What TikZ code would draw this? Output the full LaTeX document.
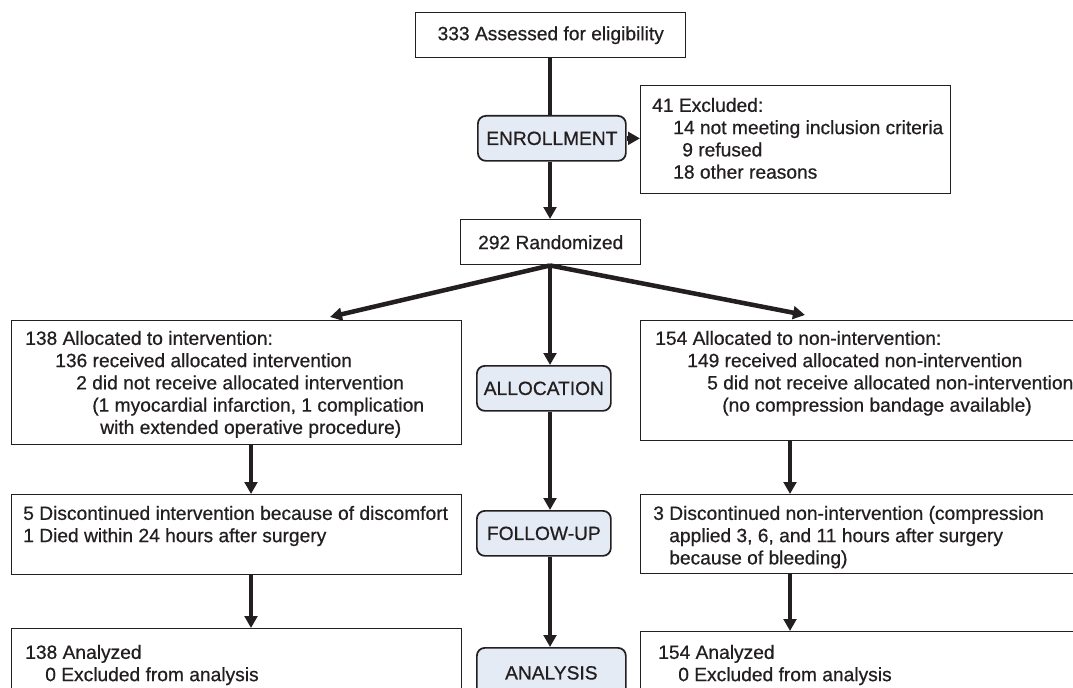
\documentclass[tikz,border=0pt]{standalone}
\usepackage{fontspec}
\setmainfont[FakeBold=0.6]{Liberation Sans}
\usetikzlibrary{arrows.meta,calc}
\definecolor{ink}{HTML}{231F20}
\definecolor{stagefill}{HTML}{E5EBF5}
\newcommand\figfont{\fontsize{14.4}{16.7}\selectfont}
\begin{document}
\begin{tikzpicture}[x=0.75pt,y=-0.75pt,
  box/.style={draw=ink, line width=1.1pt, fill=white, inner sep=0pt, anchor=north west, font=\figfont, text=ink},
  stage/.style={draw=ink, line width=1.3pt, fill=stagefill, rounded corners=6pt, inner sep=0pt, anchor=north west, font=\figfont, text=ink},
  txt/.style={anchor=north west, inner sep=0pt, align=left, font=\figfont, text=ink},
  arr/.style={draw=ink, line width=3.4pt, -{Triangle[width=9.5pt,length=9pt]}},
  link/.style={draw=ink, line width=3.4pt}]
\useasboundingbox (0,0) rectangle (1073,688);
\clip (0,0) rectangle (1073,688);
% boxes
\node[box, minimum width=202.5pt, minimum height=33.75pt] (top) at (415,12) {333 Assessed for eligibility};
\node[stage, minimum width=111pt, minimum height=33.75pt] (enr) at (477,115) {ENROLLMENT};
\node[box, minimum width=232.5pt, minimum height=81pt] (excl) at (640,85) {};
\node[box, minimum width=135pt, minimum height=33.75pt] (rand) at (460,219) {292 Randomized};
\node[box, minimum width=337.5pt, minimum height=93pt] (L1) at (11,320) {};
\node[stage, minimum width=100.5pt, minimum height=33.75pt] (alloc) at (476,365) {ALLOCATION};
\node[box, minimum width=337.5pt, minimum height=90pt] (R1) at (640,320) {};
\node[box, minimum width=337.5pt, minimum height=60pt] (L2) at (11,494) {};
\node[stage, minimum width=100.5pt, minimum height=33.75pt] (fu) at (476,510) {FOLLOW-UP};
\node[box, minimum width=337.5pt, minimum height=59.25pt] (R2) at (640,494) {};
\node[box, minimum width=337.5pt, minimum height=69pt] (L3) at (11,628) {};
\node[stage, minimum width=111.75pt, minimum height=37.5pt] (ana) at (476,647) {ANALYSIS};
\node[box, minimum width=337.5pt, minimum height=66.75pt] (R3) at (640,631) {};
% texts
\node[txt] (exclt) at ($(excl.north west)+(12,11)$) {\strut 41 Excluded:\\\hspace*{15.75pt}14 not meeting inclusion criteria\\\hspace*{22.5pt}9 refused\\\hspace*{15.75pt}18 other reasons};
\node[txt] (L1t) at ($(L1.north west)+(14,9)$) {\strut 138 Allocated to intervention:\\\hspace*{22.5pt}136 received allocated intervention\\\hspace*{38.25pt}2 did not receive allocated intervention\\\hspace*{50.25pt}(1 myocardial infarction, 1 complication\\\hspace*{56.25pt}with extended operative procedure)};
\node[txt] (R1t) at ($(R1.north west)+(15,9)$) {\strut 154 Allocated to non-intervention:\\\hspace*{24pt}149 received allocated non-intervention\\\hspace*{39pt}5 did not receive allocated non-intervention\\\hspace*{50.25pt}(no compression bandage available)};
\node[txt] (L2t) at ($(L2.north west)+(12,10)$) {\strut 5 Discontinued intervention because of discomfort\\1 Died within 24 hours after surgery};
\node[txt] (R2t) at ($(R2.north west)+(13,10)$) {\strut 3 Discontinued non-intervention (compression\\\hspace*{12pt}applied 3, 6, and 11 hours after surgery\\\hspace*{12pt}because of bleeding)};
\node[txt] (L3t) at ($(L3.north west)+(14,15)$) {\strut 138 Analyzed\\\hspace*{15pt}0 Excluded from analysis};
\node[txt] (R3t) at ($(R3.north west)+(18,12)$) {\strut 154 Analyzed\\\hspace*{15pt}0 Excluded from analysis};
% helper coordinates
\coordinate (la) at (330,317);
\coordinate (ra) at (805,315);
\coordinate (cx) at (550,0);
\coordinate (lx) at (251,0);
\coordinate (rx) at (790,0);
% connectors
\draw[link] (top.south -| cx) -- (enr.north -| cx);
\draw[arr] (enr.south -| cx) -- (rand.north -| cx);
\draw[arr] (enr.east) -- (excl.west |- enr.east);
\draw[arr] (rand.south -| cx) -- (la);
\draw[arr] (rand.south -| cx) -- (alloc.north -| cx);
\draw[arr] (rand.south -| cx) -- (ra);
\draw[arr] (alloc.south -| cx) -- (fu.north -| cx);
\draw[arr] (fu.south -| cx) -- (ana.north -| cx);
\draw[arr] (L1.south -| lx) -- (L2.north -| lx);
\draw[arr] (L2.south -| lx) -- (L3.north -| lx);
\draw[arr] (R1.south -| rx) -- (R2.north -| rx);
\draw[arr] (R2.south -| rx) -- (R3.north -| rx);
\end{tikzpicture}
\end{document}
